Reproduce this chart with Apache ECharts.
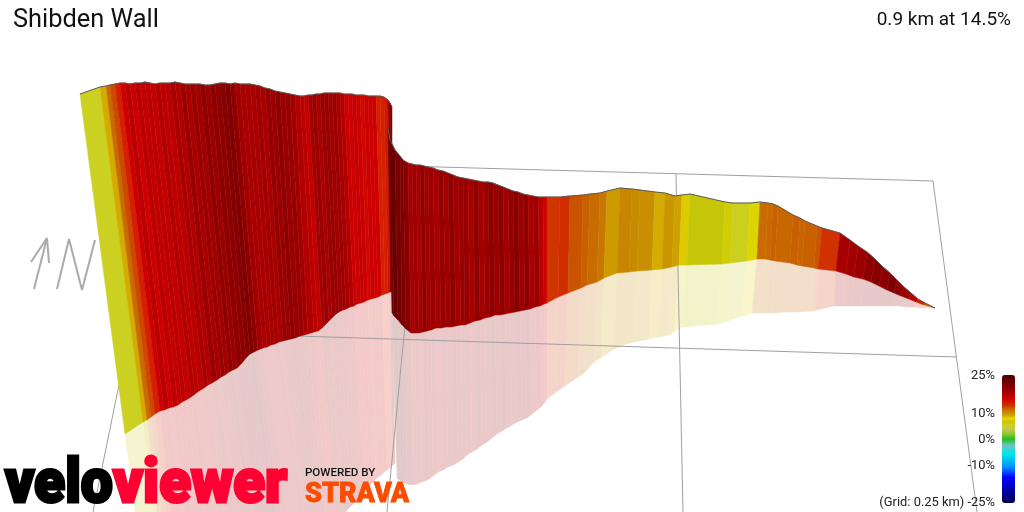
<!DOCTYPE html>
<html><head><meta charset="utf-8">
<style>html,body{margin:0;padding:0;background:#fff}#c{width:1024px;height:512px}</style>
<script src="https://cdn.jsdelivr.net/npm/echarts@6/dist/echarts.min.js"></script>
</head><body><div id="c"></div>
<script>
// First wall (before the cliff)
const wall1TopX=[80,100,106,110,115,120,125,130,135,140,145,150,155,160,165,170,175,180,185,190,195,200,205,210,215,220,225,230,235,240,245,250,255,260,265,270,275,280,285,290,295,300,304,308,312,316,320,324,328,332,336,340,344,348,352,356,360,364,368,372,376,380,384,388,390,392];
const wall1TopY=[94,87,86,85,84,83,83,84,83,83,82,83,84,83,83,83,82,83,84,84,84,84,85,85,84,83,83,84,83,84,84,84,85,86,88,89,91,92,93,94,95,96,96,95,95,94,94,93,93,93,93,93,94,94,94,95,95,95,96,96,96,96,97,100,103,107];
const wall1BaseX=[125,143,147,151,155,160,164,169,173,178,182,186,191,195,199,204,208,212,217,221,225,229,233,237,242,246,250,254,258,263,267,271,275,279,283,287,291,295,300,304,308,314,318,322,325,329,332,336,339,343,346,350,354,357,361,364,368,371,375,378,382,385,388,390,391,392];
const wall1BaseY=[434,422,420,417,414,411,410,408,407,405,402,400,397,394,391,388,385,383,380,377,375,372,370,368,363,358,354,352,350,348,347,345,344,342,341,340,339,338,336,335,334,332,331,328,325,321,318,314,312,310,309,307,306,304,303,302,300,299,298,297,295,294,293,292,292,292];
const wall1ShadeX=[160,172,176,180,184,189,193,198,202,207,211,215,220,224,228,233,237,241,246,250,254,258,262,266,271,275,279,283,287,292,296,300,304,308,311,314,317,319,321,323,325,327,331,335,338,341,344,348,351,355,357,361,364,367,370,373,376,378,381,384,387,390,392,393,394,395];
const wall1ShadeY=[700,690,685,680,675,670,665,660,655,650,645,640,635,630,625,620,615,610,605,600,595,590,585,580,575,570,565,560,555,550,548,546,544,542,540,538,536,535,534,533,532,530,526,522,519,516,513,509,506,502,499,495,491,488,485,482,479,477,475,472,470,468,466,465,464,463];
const wall1Grade=[5.5,9,11.5,12.5,14,16,17,16,17,16.5,17,16.5,17.5,17,17,18,17.5,19,18,19,18.5,20,19,20,20,20.5,21,20,18.5,18,18,18,18.5,18,19.5,19,20,19,19.5,18.5,17.5,17,16.5,18.5,19,18,19,19.5,18.5,19,18,17.5,16,16,16.5,16,15.5,16,16,16,14,14,14.5,19,21];

// Second wall (after the cliff)
const wall2TopX=[388,390,395,400,403,408,412,416,420,424,428,433,438,443,448,453,458,463,468,473,478,483,488,493,498,503,508,513,518,523,528,533,538,543,547,560,570,583,590,600,607,620,632,640,655,665,675,682,690,725,733,750,760,768,773,778,793,800,805,817,822,840,850,858,867,875,883,890,897,904,911,918,925,935];
const wall2TopY=[128,140,150,156,160,163,164,165,165,166,167,168,170,171,173,175,177,178,179,180,181,182,182,183,185,187,189,191,192,194,195,196,197,197,197,197,196,195,194,193,191,188,189,190,192,193,196,195,194,202,203,203,202,203,204,206,215,218,221,226,228,233,240,246,252,259,267,273,280,287,293,299,303,308];
const wall2BaseX=[392,394,398,402,406,411,415,419,423,427,431,436,441,446,451,456,461,465,470,475,480,485,490,495,500,505,510,515,520,525,530,535,540,544,547,558,568,581,587,597,604,617,629,637,652,662,672,679,687,722,730,747,757,765,770,775,790,797,802,814,818,836,846,854,863,871,879,887,894,901,909,916,924,935];
const wall2BaseY=[313,316,320,325,329,333,333,333,332,331,330,328,328,327,327,326,325,325,323,321,320,318,317,315,315,314,313,312,311,310,309,307,306,304,303,297,293,288,285,282,278,273,272,271,270,269,267,265,265,264,263,261,259,259,260,261,263,265,266,268,269,271,274,277,279,282,286,290,293,296,299,302,305,308];
const wall2ShadeX=[397,398,401,404,407,413,417,421,425,429,433,438,443,448,453,458,463,467,472,477,482,487,492,497,502,507,512,517,522,527,532,537,542,545,547,556,565,578,584,594,601,614,626,634,649,659,669,675,682,717,725,742,752,761,767,772,788,795,800,812,816,834,844,852,861,870,878,886,893,900,908,915,923,935];
const wall2ShadeY=[477,479,481,483,484,485,484,482,481,479,476,472,470,467,465,462,459,455,452,449,445,442,438,434,431,428,425,422,420,418,414,410,406,402,399,392,386,377,373,362,358,349,344,342,339,337,335,331,327,324,322,316,313,313,313,313,312,312,312,311,310,306,306,306,306,306,306,306,306,306,307,307,308,308];
const wall2Grade=[22,22.5,21.5,21,20.5,18,19,18,20,18.5,19,18,19.5,18.5,20,18.5,19,19.5,18,20,18.5,19,20,19,20,18.5,19.5,20.5,19,20,18,19,17,16,13,13.3,12.3,12,11.5,11,9.6,10.4,10.2,10,9,9.8,9.4,8.3,6.6,7.2,5.6,7.8,11.5,11.6,11.9,11.7,12,11.8,12,12.2,13.2,18,18.5,19,20,20.5,20,21,20,19,17,14,12];

// Perspective grid and compass, one list per stroke
const gridLines=[
  [[425,166.6],[933,181],[977,512]],
  [[297,336],[957,357]],
  [[405,325],[387,512]],
  [[676,174],[683,512]],
  [[122,370],[93,512]]
];
const compass=[
  [[31,262],[47,238],[49,263]],
  [[47,238],[34,289]],
  [[57,289],[69,239],[82,290],[95,240]]
];

// Gradient scale
const scaleStops=[[-25,'#000050'],[-15,'#0000ff'],[-11,'#0090ff'],[-5.7,'#00e8e8'],[-2.4,'#70c0c0'],[0,'#20c020'],[2,'#90c830'],[4,'#c8c850'],[5.5,'#ccd020'],[6.6,'#c4c408'],[8,'#e0d800'],[9,'#d4ac00'],[10,'#c89000'],[11,'#c87800'],[12,'#c86000'],[13,'#d03400'],[14,'#d42000'],[16,'#cc0000'],[18,'#a80000'],[20,'#8e0000'],[22,'#6f0000'],[25,'#4a0000']];
const scaleLabels=[['25%',376],['10%',414],['0%',440],['-10%',466],['(Grid: 0.25 km) -25%',503]];

function hex(c){return [1,3,5].map(i=>parseInt(c.substr(i,2),16));}
function ramp(v){
  for(let i=1;i<scaleStops.length;i++){
    const a=scaleStops[i-1],b=scaleStops[i];
    if(v<=b[0]){
      const t=(v-a[0])/(b[0]-a[0]),p=hex(a[1]),q=hex(b[1]);
      return 'rgb('+p.map((x,k)=>Math.round(x+(q[k]-x)*t)).join(',')+')';
    }
  }
  return scaleStops[scaleStops.length-1][1];
}
const rampColors=[];
for(let k=0;k<=100;k++)rampColors.push(ramp(-25+k*0.5));

function pts(api,xa,ya,xb,yb,i){
  return [api.coord([xa[i],ya[i]]),api.coord([xa[i+1],ya[i+1]]),api.coord([xb[i+1],yb[i+1]]),api.coord([xb[i],yb[i]])];
}
function wallSeries(topX,topY,baseX,baseY,grade,z){
  return {type:'custom',coordinateSystem:'cartesian2d',z:z,silent:true,animation:false,clip:false,
    data:grade.map((g,i)=>[i,g]),encode:{x:0,y:1},
    renderItem:(p,api)=>{const i=api.value(0),c=api.visual('color');
      return {type:'polygon',shape:{points:pts(api,topX,topY,baseX,baseY,i)},style:{fill:c,stroke:c,lineWidth:0.5}};}};
}
function shadeSeries(baseX,baseY,shX,shY,grade,z){
  return {type:'custom',coordinateSystem:'cartesian2d',z:z,silent:true,animation:false,clip:false,
    data:grade.map((g,i)=>[i,g]),encode:{x:0,y:1},
    renderItem:(p,api)=>{const i=api.value(0),c=echarts.color.lerp(0.21,['#ffffff',api.visual('color')]);
      return {type:'polygon',shape:{points:pts(api,baseX,baseY,shX,shY,i)},style:{fill:c,stroke:c,lineWidth:0.5}};}};
}
function strokeSeries(lines,color,width,z){
  const d=[];lines.forEach(l=>{l.forEach(q=>d.push(q));d.push(['-','-']);});
  return {type:'line',data:d,symbol:'none',silent:true,animation:false,z:z,connectNulls:false,clip:false,
    lineStyle:{color:color,width:width}};
}
const outline1=wall1TopX.map((x,i)=>[x,wall1TopY[i]]);
const outline2=wall2TopX.map((x,i)=>[x,wall2TopY[i]]);

function label(text,x,y,size,color,align){
  return {type:'text',x:x,y:y,z:50,silent:true,style:{text:text,x:0,y:0,fill:color,font:size+'px Roboto, sans-serif',align:align||'left',verticalAlign:'middle'}};
}

const chart=echarts.init(document.getElementById('c'),null,{renderer:'canvas'});
chart.setOption({
  animation:false,
  backgroundColor:'#ffffff',
  grid:{left:0,right:0,top:0,bottom:0},
  xAxis:{type:'value',min:0,max:1024,show:false},
  yAxis:{type:'value',min:0,max:512,inverse:true,show:false},
  visualMap:{type:'continuous',min:-25,max:25,dimension:1,seriesIndex:[2,3,4,5],
    inRange:{color:rampColors},calculable:false,hoverLink:false,realtime:false,
    left:1002,top:375,itemWidth:13,itemHeight:128,padding:0,text:null,showLabel:false,borderWidth:0,z:40},
  series:[
    strokeSeries(gridLines,'#a0a0a0',1,2.5),
    strokeSeries(compass,'#aaaaaa',2,1),
    shadeSeries(wall1BaseX,wall1BaseY,wall1ShadeX,wall1ShadeY,wall1Grade,1),
    shadeSeries(wall2BaseX,wall2BaseY,wall2ShadeX,wall2ShadeY,wall2Grade,2),
    wallSeries(wall1TopX,wall1TopY,wall1BaseX,wall1BaseY,wall1Grade,3),
    wallSeries(wall2TopX,wall2TopY,wall2BaseX,wall2BaseY,wall2Grade,4),
    {type:'line',data:outline1,symbol:'none',silent:true,animation:false,z:5,lineStyle:{color:'#5a5a5a',width:1}},
    {type:'line',data:outline2,symbol:'none',silent:true,animation:false,z:5,lineStyle:{color:'#5a5a5a',width:1}}
  ],
  graphic:{elements:[
    label('Shibden Wall',13,21,25.4,'#111'),
    label('0.9 km at 14.5%',1011,20,19,'#111','right'),
    ...scaleLabels.map(l=>label(l[0],995,l[1],12.9,'#222','right')),
    {type:'text',x:5,y:486,z:50,silent:true,scaleX:0.92,style:{text:'velo',fill:'#000',stroke:'#000',lineWidth:3,font:'900 62px Roboto, sans-serif',verticalAlign:'middle',align:'left'}},
    {type:'text',x:113,y:486,z:50,silent:true,scaleX:0.94,style:{text:'viewer',fill:'#ff0033',stroke:'#ff0033',lineWidth:3,font:'900 62px Roboto, sans-serif',verticalAlign:'middle',align:'left'}},
    {type:'text',x:305,y:473,z:50,silent:true,scaleX:1.1,style:{text:'POWERED BY',fill:'#111',font:'500 10.5px Roboto, sans-serif',verticalAlign:'middle',align:'left'}},
    {type:'text',x:305,y:495,z:50,silent:true,style:{text:'STRAVA',fill:'#fc4c02',stroke:'#fc4c02',lineWidth:0.8,font:'900 27px Roboto, sans-serif',verticalAlign:'middle',align:'left'}}
  ]}
});
</script></body></html>
